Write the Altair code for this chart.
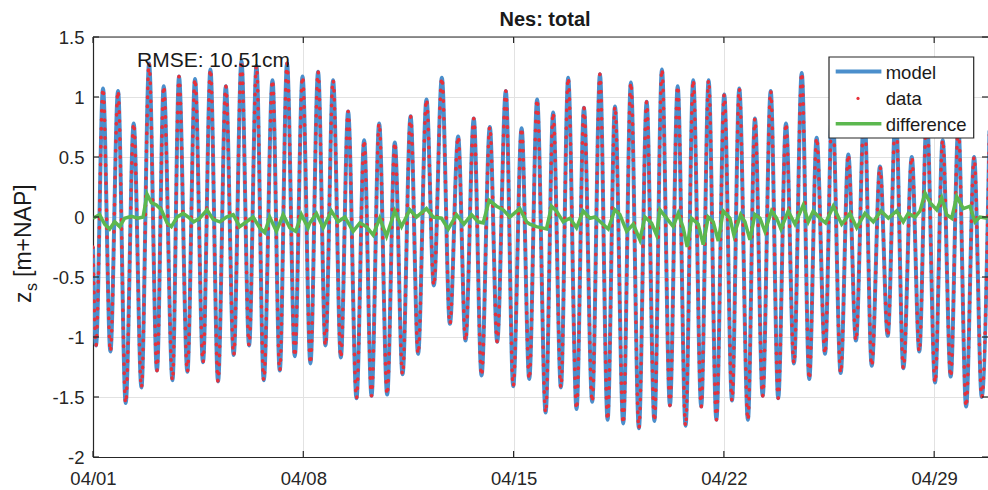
import altair as alt
import pandas as pd

# ---------------- data ----------------
# hours after 2019-04-01 00:00
start_hour = [0.0]
start_level = [-0.25]

high_hours = [8.0, 20.0, 32.5, 44.8, 56.5, 68.7, 81.5, 93.8, 106.1, 118.6,
              130.6, 143.4, 155.0, 167.4, 179.8, 191.8, 203.8, 216.6, 228.6, 241.1,
              253.7, 266.4, 278.7, 291.7, 304.2, 317.0, 329.8, 342.4, 354.8, 367.6,
              379.6, 392.2, 405.0, 417.0, 429.7, 442.3, 454.5, 467.1, 479.5, 491.8,
              504.3, 516.3, 528.8, 541.4, 553.6, 566.2, 578.1, 590.6, 603.4, 616.2,
              628.7, 641.3, 654.1, 666.1, 678.8, 691.3, 703.9, 716.2]
high_levels = [1.07, 1.05, 0.78, 1.28, 1.09, 1.17, 1.15, 1.23, 1.09, 1.30,
               1.26, 1.14, 1.28, 1.17, 1.21, 1.14, 0.88, 0.64, 0.78, 0.62,
               0.84, 0.98, 1.16, 0.67, 0.82, 0.75, 1.05, 0.74, 0.98, 0.87,
               1.16, 0.91, 1.19, 0.92, 1.12, 0.96, 1.23, 1.09, 1.14, 1.14,
               1.02, 1.07, 0.82, 1.05, 0.78, 1.20, 0.66, 0.95, 0.52, 0.90,
               0.42, 0.88, 0.50, 0.85, 0.64, 0.75, 0.50, 0.72]

low_hours = [2.4, 13.9, 26.1, 38.7, 51.1, 63.5, 75.4, 87.9, 99.9, 112.4,
             124.7, 136.4, 149.2, 161.2, 173.7, 185.7, 198.0, 210.5, 222.5, 235.0,
             247.3, 259.7, 272.3, 285.1, 297.6, 310.4, 322.9, 335.7, 348.5, 361.6,
             373.8, 386.3, 398.8, 411.1, 423.6, 436.1, 448.5, 460.9, 473.4, 485.9,
             498.0, 510.5, 523.2, 535.0, 547.4, 560.0, 572.2, 584.8, 597.3, 609.5,
             622.1, 634.9, 647.4, 660.1, 672.7, 685.2, 697.5, 710.0]
low_levels = [-1.07, -1.12, -1.55, -1.42, -1.28, -1.36, -1.29, -1.21, -1.37, -1.15,
              -1.07, -1.36, -1.28, -1.16, -1.22, -1.07, -1.17, -1.51, -1.49, -1.48,
              -1.31, -1.14, -0.57, -0.89, -1.03, -1.32, -1.04, -1.41, -1.35, -1.63,
              -1.42, -1.60, -1.54, -1.69, -1.72, -1.76, -1.70, -1.57, -1.74, -1.58,
              -1.69, -1.53, -1.69, -1.49, -1.51, -1.22, -1.35, -1.14, -1.30, -1.03,
              -1.24, -0.99, -1.26, -1.12, -1.38, -1.33, -1.58, -1.50]

diff_hours = [0, 5.3, 9.3, 13.3, 17.3, 21.3, 25.3, 30.7, 36, 40,
              43.2, 46.6, 50.6, 54.6, 59.2, 62.6, 67.2, 72, 76, 80.5,
              85.3, 91.1, 96, 101.3, 106.6, 112, 117.2, 122.6, 127.9, 133.2,
              137.2, 141.2, 146.5, 151.9, 157.2, 162, 166.5, 171.8, 173.2, 178.5,
              183.9, 190.5, 195.8, 201.2, 207.8, 213.2, 218.5, 223.8, 229.1, 234.5,
              241.1, 246.5, 253.1, 258.4, 266.4, 271.8, 278.4, 283.8, 290.4, 296.3,
              302.4, 307.7, 311.7, 316.5, 322.4, 327.7, 333.0, 341.0, 346.4, 349.0,
              354.3, 362.3, 366.3, 370.3, 375.6, 381, 386.3, 391.6, 397, 401,
              406.3, 411.6, 416.9, 420.9, 426.3, 431.6, 436.9, 440.9, 446.2, 450.2,
              452.9, 458.2, 463.5, 467.5, 471.5, 474.7, 478.2, 483.5, 487.5, 491.5,
              495.5, 499.5, 503.5, 508.8, 512, 517.4, 520.8, 524.8, 528.8, 532.8,
              536.8, 542.1, 546.1, 549.6, 555.4, 560.8, 567.4, 571.4, 575.4, 580.7,
              585.3, 591.4, 598.1, 604.7, 610.1, 616.7, 623.4, 629.5, 635.4, 642,
              647.3, 651.3, 656.7, 660.7, 664.7, 668.7, 674, 678, 682, 686,
              690, 695.3, 700.6, 704.6, 708.6, 714.7]
diff_values = [-0.01, 0.02, -0.06, -0.10, -0.04, -0.08, -0.01, 0.005, -0.01, 0.0,
               0.19, 0.12, 0.10, 0.06, -0.05, -0.08, 0.0, 0.03, 0.0, -0.04,
               -0.01, 0.06, -0.02, -0.04, 0.0, 0.02, -0.08, -0.04, 0.0, -0.09,
               -0.13, 0.0, -0.12, 0.02, -0.09, -0.12, 0.02, -0.09, -0.05, 0.03,
               -0.09, 0.05, -0.04, 0.0, -0.12, -0.05, -0.08, -0.15, -0.01, -0.16,
               0.05, -0.08, 0.06, 0.0, 0.07, 0.0, -0.01, -0.10, 0.02, -0.06,
               0.02, -0.04, -0.05, 0.14, 0.09, 0.06, 0.0, 0.07, -0.04, -0.06,
               -0.08, -0.10, 0.09, 0.05, -0.04, -0.01, -0.09, 0.05, -0.01, 0.0,
               -0.05, -0.10, 0.06, 0.02, -0.12, -0.06, -0.19, 0.0, -0.05, -0.15,
               0.06, -0.01, -0.08, 0.03, -0.09, -0.25, -0.01, -0.06, -0.23, 0.0,
               -0.04, -0.20, 0.05, -0.01, -0.15, 0.02, -0.04, -0.19, 0.02, -0.01,
               -0.12, 0.05, -0.01, -0.10, 0.05, -0.06, 0.10, -0.04, 0.05, -0.01,
               -0.05, 0.09, -0.06, 0.03, -0.09, 0.03, -0.04, 0.05, -0.01, 0.05,
               -0.04, 0.03, 0.0, 0.05, 0.20, 0.12, 0.06, 0.16, 0.02, -0.01,
               0.17, 0.07, 0.09, -0.04, 0.0, -0.01]

x_tick_labels = ["04/01", "04/08", "04/15", "04/22", "04/29"]
y_ticks = [-2, -1.5, -1, -0.5, 0, 0.5, 1, 1.5]

# ---------------- tables ----------------
BASE = pd.Timestamp("2019-04-01")


def to_time(hours):
    return BASE + pd.to_timedelta(pd.Series(hours, dtype=float), unit="h")


tide = pd.DataFrame({
    "h": start_hour + high_hours + low_hours,
    "z": start_level + high_levels + low_levels,
}).sort_values("h").reset_index(drop=True)
tide["t"] = to_time(tide["h"])

diff = pd.DataFrame({"h": diff_hours, "z": diff_values})
diff["t"] = to_time(diff["h"])

tick_dates = [pd.Timestamp("2019-" + s.replace("/", "-")) for s in x_tick_labels]
END = pd.Timestamp("2019-04-30 19:00")
xt = pd.DataFrame({"t": tick_dates})
yt = pd.DataFrame({"v": y_ticks})

# ---------------- styles ----------------
BLUE = "#4b8fcc"
RED = "#e8303a"
GREEN = "#5cb84f"
AX = "#262626"
FONT = "Liberation Sans"
FS = 18.5
W, H = 895, 420
PX_H = (END - BASE).total_seconds() / 3600 / W  # hours per pixel
PX_Z = 3.5 / H                                    # metres per pixel

x_scale = alt.Scale(domain=[alt.DateTime(year=2019, month=4, date=1),
                            alt.DateTime(year=2019, month=4, date=30, hours=19)])
y_scale = alt.Scale(domain=[-2, 1.5], nice=False, zero=False)
x_axis = alt.Axis(values=[alt.DateTime(year=2019, month=4, date=int(s[3:])) for s in x_tick_labels],
                  format="%m/%d", title=None, grid=True, gridColor="#e2e2e2",
                  domainColor=AX, domainWidth=1.2, tickSize=0, labelFont=FONT,
                  labelFontSize=FS, labelColor=AX, labelPadding=12, labelFlush=False,
                  labelOverlap=False)
y_axis = alt.Axis(values=y_ticks, labelExpr="'' + datum.value", title=None, grid=True,
                  gridColor="#e2e2e2", domainColor=AX, domainWidth=1.2, tickSize=0,
                  labelFont=FONT, labelFontSize=FS, labelColor=AX, labelPadding=9,
                  labelOverlap=False)


def X(f="t"):
    return alt.X(f + ":T", scale=x_scale, axis=x_axis)


def Y(f="z"):
    return alt.Y(f + ":Q", scale=y_scale, axis=y_axis)


model = alt.Chart(tide).mark_line(color=BLUE, strokeWidth=4, interpolate="monotone",
                                  clip=True).encode(x=X(), y=Y())
data = alt.Chart(tide).mark_line(color=RED, strokeWidth=3.5, strokeDash=[0.5, 8.5],
                                 strokeCap="round", interpolate="monotone",
                                 clip=True).encode(x=X(), y=Y())
difference = alt.Chart(diff).mark_line(color=GREEN, strokeWidth=3.5,
                                       clip=True).encode(x=X(), y=Y())

# inward ticks and top border
xt_b = xt.assign(a=-2.0, b=-2.0 + 6 * PX_Z)
xt_t = xt.assign(a=1.5, b=1.5 - 6 * PX_Z)
ticks_bottom = alt.Chart(xt_b).mark_rule(color=AX, strokeWidth=1.2).encode(
    x=X(), y=Y("a"), y2="b")
ticks_top = alt.Chart(xt_t).mark_rule(color=AX, strokeWidth=1.2).encode(
    x=X(), y=Y("a"), y2="b")
yt_l = yt.assign(a=BASE, b=BASE + pd.Timedelta(hours=6 * PX_H))
yt_r = yt.assign(a=END - pd.Timedelta(hours=6 * PX_H), b=END)
ticks_left = alt.Chart(yt_l).mark_rule(color=AX, strokeWidth=1.2).encode(
    x=X("a"), x2="b", y=Y("v"))
ticks_right = alt.Chart(yt_r).mark_rule(color=AX, strokeWidth=1.2).encode(
    x=X("a"), x2="b", y=Y("v"))
top_border = alt.Chart(pd.DataFrame({"a": [BASE], "b": [END], "v": [1.5]})).mark_rule(
    color=AX, strokeWidth=1.2).encode(x=X("a"), x2="b", y=Y("v"))

one = pd.DataFrame({"k": [0]})


def label(text, x, y, size=FS, weight="normal", align="left", angle=0, baseline="middle"):
    return alt.Chart(one).mark_text(text=text, font=FONT, fontSize=size, fontWeight=weight,
                                    align=align, baseline=baseline, angle=angle,
                                    color="#1a1a1a").encode(x=alt.value(x), y=alt.value(y))


title = label("Nes: total", 452, -17, size=20, weight="bold", align="center")
rmse = label("RMSE: 10.51cm", 44, 24, size=21)
# y-axis title  z_s [m+NAP]  (rotated, reads upwards)
ylab_z = label("z", -62, 266, size=23, angle=270, baseline="alphabetic")
ylab_s = label("s", -56, 254, size=16, angle=270, baseline="alphabetic")
ylab_rest = label("[m+NAP]", -62, 240, size=23, angle=270, baseline="alphabetic")

# legend box
leg_box = alt.Chart(one).mark_rect(fill="white", stroke=AX, strokeWidth=1.2).encode(
    x=alt.value(736), x2=alt.value(880.7), y=alt.value(20), y2=alt.value(101))
leg_model = alt.Chart(one).mark_rule(color=BLUE, strokeWidth=4).encode(
    x=alt.value(742.7), x2=alt.value(788.4), y=alt.value(34.4))
leg_data = alt.Chart(one).mark_point(filled=True, color=RED, size=10, opacity=1).encode(
    x=alt.value(765), y=alt.value(61.4))
leg_diff = alt.Chart(one).mark_rule(color=GREEN, strokeWidth=3.5).encode(
    x=alt.value(742.7), x2=alt.value(788.4), y=alt.value(86.7))
leg_t1 = label("model", 792.7, 35.5)
leg_t2 = label("data", 792.7, 62)
leg_t3 = label("difference", 792.7, 87.5)

chart = alt.layer(
    model, data, difference,
    ticks_bottom, ticks_top, ticks_left, ticks_right, top_border,
    title, rmse, ylab_z, ylab_s, ylab_rest,
    leg_box, leg_model, leg_data, leg_diff, leg_t1, leg_t2, leg_t3,
).properties(
    width=W, height=H,
    padding={"left": 93, "top": 37, "right": 0, "bottom": 33},
    autosize=alt.AutoSizeParams(type="none"),
    background="white",
).configure_view(stroke=None)

chart.save("out.html", embed_options={"renderer": "svg", "actions": False})
